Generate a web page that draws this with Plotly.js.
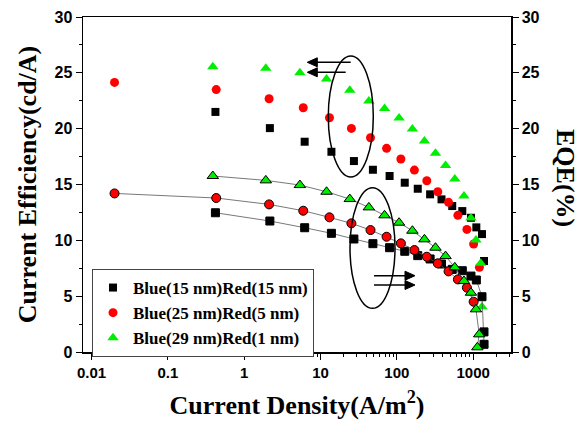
<!DOCTYPE html>
<html>
<head>
<meta charset="utf-8">
<script src="https://cdn.plot.ly/plotly-3.0.1.min.js"></script>
<style>html,body{margin:0;padding:0;background:#fff;}#chart{width:582px;height:426px;}</style>
</head>
<body>
<div id="chart"></div>
<script>
// ---- data ----
const seriesNames = ['Blue(15 nm)Red(15 nm)', 'Blue(25 nm)Red(5 nm)', 'Blue(29 nm)Red(1 nm)'];

// Blue(15 nm)Red(15 nm)
const blackCEx  = [0.02, 0.42, 2.17, 6.2, 13.9, 27.4, 48.6, 80.4, 127, 188, 273, 385, 532, 721, 936, 1101, 1306, 1387];
const blackCE   = [0, 21.5, 20.05, 18.83, 17.93, 17.1, 16.32, 15.76, 15.16, 14.62, 14.12, 13.67, 13.07, 12.62, 12.02, 11.16, 10.56, 8.15];
const blackEQEx = [0.42, 2.17, 6.2, 13.9, 27.4, 48.6, 80.4, 127, 188, 273, 385, 532, 721, 936, 1101, 1306, 1387, 1390];
const blackEQE  = [12.47, 11.73, 11.13, 10.63, 10.12, 9.70, 9.34, 9.02, 8.63, 8.33, 7.88, 7.4, 7.28, 6.8, 6.45, 4.95, 1.8, 0.69];

// Blue(25 nm)Red(5 nm)
const redCEx  = [0.02, 0.43, 2.12, 5.94, 13.1, 25.4, 45.2, 73.4, 113, 170, 247, 344, 476, 631, 828, 1015, 1208];
const redCE   = [24.14, 23.5, 22.68, 21.87, 20.98, 20.02, 19.19, 18.24, 17.28, 16.29, 15.34, 14.35, 13.4, 12.24, 10.98, 9.67, 7.58];
const redEQEx = [0.02, 0.43, 2.12, 5.94, 13.1, 25.4, 45.2, 73.4, 113, 170, 247, 344, 476, 631, 828, 1015];
const redEQE  = [14.2, 13.79, 13.22, 12.65, 12.06, 11.52, 10.92, 10.32, 9.73, 9.13, 8.53, 7.94, 7.22, 6.5, 5.76, 4.5];

// Blue(29 nm)Red(1 nm)
const greenCEx  = [0.388, 1.92, 5.37, 12.0, 24.2, 43, 69, 107, 160, 230, 321, 435, 575, 758, 936, 1089, 1256, 1306, 1340];
const greenCE   = [25.54, 25.4, 25.0, 24.44, 23.45, 22.47, 21.8, 20.95, 19.96, 18.9, 17.8, 16.7, 15.5, 13.97, 12.0, 10.03, 7.94, 4.06, 0.69];
const greenEQEx = [0.388, 1.92, 5.37, 12.0, 24.2, 43, 69, 107, 160, 230, 321, 435, 575, 758, 936, 1089, 1200, 1135];
const greenEQE  = [15.76, 15.37, 14.95, 14.35, 13.7, 12.95, 12.24, 11.58, 10.86, 10.09, 9.34, 8.59, 7.58, 6.36, 5.31, 3.82, 1.58, 0.42];

const xTickVals = [0.01, 0.1, 1, 10, 100, 1000];
const xTickText = ['0.01', '0.1', '1', '10', '100', '1000'];

// ---- styles ----
const colors = ['#000000', '#ff0000', '#00ee00'];
const symbols = ['square', 'circle', 'triangle-up'];
const sizes = [8, 9, 10];
const lineColor = '#555555';

const ceX = [blackCEx, redCEx, greenCEx];
const ceY = [blackCE, redCE, greenCE];
const eqX = [blackEQEx, redEQEx, greenEQEx];
const eqY = [blackEQE, redEQE, greenEQE];

const traces = [];
for (let i = 0; i < 3; i++) {
  traces.push({
    x: ceX[i], y: ceY[i], type: 'scatter', mode: 'markers', name: seriesNames[i],
    marker: {symbol: symbols[i], color: colors[i], size: sizes[i], line: {width: 0}},
    showlegend: true, xaxis: 'x', yaxis: 'y', cliponaxis: false
  });
}
for (let i = 0; i < 3; i++) {
  traces.push({
    x: eqX[i], y: eqY[i], type: 'scatter', mode: 'lines+markers', name: seriesNames[i] + ' EQE',
    line: {color: lineColor, width: 0.8},
    marker: {symbol: symbols[i], color: colors[i], size: sizes[i], line: {width: 1, color: '#000'}},
    showlegend: false, xaxis: 'x', yaxis: 'y2', cliponaxis: false
  });
}

const minorVals = [];
for (let e = -2; e <= 3; e++) {
  for (let m = 2; m <= 9; m++) {
    const v = m * Math.pow(10, e);
    if (Math.log10(v) < 3.49) minorVals.push(v);
  }
}

const tickFont = {family: 'Liberation Sans, Arial, sans-serif', size: 16, color: '#000', weight: 'bold'};
const titleFont = {family: 'Liberation Serif, Times New Roman, serif', size: 26, color: '#000', weight: 'bold'};

// plot area in pixels: x 83..511, y 17..352
function px(xp) { return (xp - 83) / 428; }
function py(yp) { return (352 - yp) / 335; }

// arrow helper (shapes): line from tail to tip plus filled head
function arrow(tailX, tipX, y) {
  const dir = tipX > tailX ? 1 : -1;
  const hl = 10, hw = 4.5;
  return [
    {type: 'line', xref: 'paper', yref: 'paper', x0: px(tailX), x1: px(tipX - dir * hl * 0.6), y0: py(y), y1: py(y), line: {color: '#000', width: 1.6}},
    {type: 'path', xref: 'paper', yref: 'paper',
     path: 'M ' + px(tipX) + ' ' + py(y) + ' L ' + px(tipX - dir * hl) + ' ' + py(y - hw) + ' L ' + px(tipX - dir * hl) + ' ' + py(y + hw) + ' Z',
     fillcolor: '#000', line: {color: '#000', width: 1}}
  ];
}

const layout = {
  width: 582, height: 426,
  margin: {l: 83, r: 71, t: 17, b: 74, pad: 0},
  paper_bgcolor: '#fff', plot_bgcolor: '#fff',
  showlegend: true,
  legend: {
    x: px(92), y: py(269), xanchor: 'left', yanchor: 'top',
    bgcolor: '#fff', bordercolor: '#444', borderwidth: 1,
    font: {family: 'Liberation Serif, Times New Roman, serif', size: 17, color: '#000', weight: 'bold'},
    tracegroupgap: 0, itemwidth: 30
  },
  xaxis: {
    type: 'log', range: [-2.112, 3.496],
    tickmode: 'array', tickvals: xTickVals, ticktext: xTickText,
    ticks: 'outside', ticklen: 6, tickwidth: 1, tickcolor: '#000',
    minor: {tickmode: 'array', tickvals: minorVals, ticks: 'outside', ticklen: 3, tickwidth: 1, tickcolor: '#000', showgrid: false},
    showline: true, linecolor: '#000', linewidth: 1.5, mirror: true,
    showgrid: false, zeroline: false,
    tickfont: {family: 'Liberation Sans, Arial, sans-serif', size: 15, color: '#000', weight: 'bold'},
    title: {text: 'Current Density(A/m<sup>2</sup>)', font: titleFont, standoff: 16}
  },
  yaxis: {
    range: [0, 30], dtick: 5, tick0: 0,
    ticks: 'outside', ticklen: 6, tickwidth: 1, tickcolor: '#000',
    minor: {dtick: 2.5, ticks: 'outside', ticklen: 3, tickwidth: 1, tickcolor: '#000', showgrid: false},
    showline: true, linecolor: '#000', linewidth: 1.5, mirror: false,
    showgrid: false, zeroline: false,
    tickfont: tickFont,
    title: {text: 'Current Efficiency(cd/A)', font: titleFont, standoff: 10}
  },
  yaxis2: {
    range: [0, 30], dtick: 5, tick0: 0, overlaying: 'y', side: 'right',
    ticks: 'outside', ticklen: 6, tickwidth: 1, tickcolor: '#000',
    minor: {dtick: 2.5, ticks: 'outside', ticklen: 3, tickwidth: 1, tickcolor: '#000', showgrid: false},
    showline: true, linecolor: '#000', linewidth: 1.5,
    showgrid: false, zeroline: false,
    tickfont: tickFont
  },
  shapes: [
    {type: 'circle', xref: 'paper', yref: 'paper', x0: px(328.3), x1: px(373.3), y0: py(177), y1: py(56), line: {color: '#000', width: 1.5}},
    {type: 'circle', xref: 'paper', yref: 'paper', x0: px(350), x1: px(395), y0: py(308.3), y1: py(187.7), line: {color: '#000', width: 1.5}}
  ].concat(arrow(350.7, 307.3, 62.3), arrow(345.7, 307.3, 72.3), arrow(374, 415, 275.7), arrow(374, 415, 285)),
  annotations: [
    {xref: 'paper', yref: 'paper', x: px(566), y: py(178), text: 'EQE(%)', showarrow: false, textangle: 90, font: titleFont, xanchor: 'center', yanchor: 'middle'}
  ]
};

Plotly.newPlot('chart', traces, layout, {staticPlot: true, displayModeBar: false});
</script>
</body>
</html>
